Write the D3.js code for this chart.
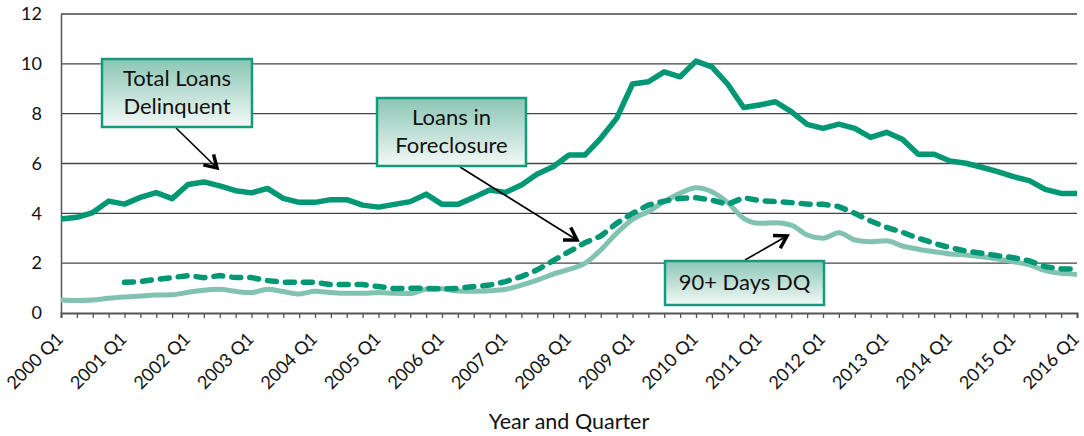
<!DOCTYPE html>
<html>
<head>
<meta charset="utf-8" />
<title>Delinquency and Foreclosure</title>
<script src="https://d3js.org/d3.v7.min.js"></script>
<style>
  body { margin: 0; background: #fff; }
  text { font-family: Lato, "Liberation Sans", sans-serif; fill: #111; }
</style>
</head>
<body>
<svg width="1084" height="436"></svg>
<script>
// chart data
var years = [2000, 2001, 2002, 2003, 2004, 2005, 2006, 2007, 2008, 2009, 2010, 2011, 2012, 2013, 2014, 2015, 2016];
var quarters = [];
years.forEach(function (yr) {
    ["Q1", "Q2", "Q3", "Q4"].forEach(function (q) {
        if (yr < 2016 || q === "Q1") quarters.push(yr + " " + q);
    });
});

var totalDelinquent = [3.77, 3.84, 4.03, 4.49, 4.37, 4.64, 4.83, 4.59, 5.16, 5.26, 5.10, 4.91, 4.82, 5.00, 4.60, 4.44,
    4.44, 4.55, 4.55, 4.33, 4.25, 4.36, 4.47, 4.77, 4.36, 4.36, 4.64, 4.94, 4.84, 5.14, 5.58, 5.87,
    6.34, 6.34, 7.01, 7.81, 9.19, 9.28, 9.68, 9.48, 10.11, 9.88, 9.18, 8.25, 8.35, 8.48, 8.08, 7.57,
    7.41, 7.58, 7.41, 7.05, 7.25, 6.97, 6.37, 6.37, 6.10, 6.01, 5.85, 5.67, 5.47, 5.31, 4.96, 4.80, 4.80];

var foreclosure = [null, null, null, null, 1.23, 1.26, 1.35, 1.42, 1.50, 1.42, 1.50, 1.42, 1.42, 1.30, 1.23, 1.23,
    1.23, 1.14, 1.14, 1.14, 1.06, 0.98, 0.99, 0.99, 0.97, 0.99, 1.06, 1.12, 1.26, 1.46, 1.73, 2.10,
    2.46, 2.82, 3.09, 3.60, 4.00, 4.33, 4.49, 4.60, 4.63, 4.53, 4.36, 4.63, 4.51, 4.47, 4.43, 4.37,
    4.36, 4.27, 4.00, 3.69, 3.44, 3.24, 3.00, 2.80, 2.62, 2.49, 2.40, 2.30, 2.22, 2.09, 1.86, 1.77, 1.77];

var days90 = [0.52, 0.50, 0.52, 0.59, 0.64, 0.68, 0.72, 0.73, 0.83, 0.91, 0.95, 0.87, 0.82, 0.95, 0.86, 0.76,
    0.87, 0.82, 0.79, 0.79, 0.82, 0.79, 0.78, 0.95, 0.97, 0.88, 0.87, 0.89, 0.95, 1.12, 1.32, 1.56,
    1.75, 1.99, 2.53, 3.20, 3.76, 4.07, 4.47, 4.80, 5.03, 4.87, 4.43, 3.80, 3.60, 3.62, 3.53, 3.13,
    3.00, 3.22, 2.93, 2.86, 2.90, 2.69, 2.56, 2.46, 2.37, 2.33, 2.26, 2.17, 2.06, 1.93, 1.70, 1.59, 1.55];

var yTicks = [0, 2, 4, 6, 8, 10, 12];

var svg = d3.select("svg");
var plotLeft = 61, plotRight = 1077, plotTop = 14, plotBottom = 313;
var darkGreen = "#009775", lightGreen = "#82c2b0";

var x = d3.scalePoint().domain(quarters).range([plotLeft, plotRight]);
var y = d3.scaleLinear().domain([0, 12]).range([plotBottom, plotTop]);

// gridlines
svg.append("g")
    .selectAll("line")
    .data(yTicks.filter(function (d) { return d > 0; }))
    .enter()
    .append("line")
    .attr("x1", plotLeft)
    .attr("x2", plotRight)
    .attr("y1", function (d) { return y(d); })
    .attr("y2", function (d) { return y(d); })
    .attr("stroke", "#444")
    .attr("stroke-width", 1.3);

// y axis
var yAxis = svg.append("g")
    .attr("transform", "translate(" + plotLeft + ",0)")
    .call(d3.axisLeft(y).tickValues(yTicks).tickSize(0).tickPadding(19));
yAxis.select(".domain").attr("stroke", "#555").attr("stroke-width", 1.5);
yAxis.selectAll("text").style("font-size", "18px");

// x axis
var xAxis = svg.append("g")
    .attr("transform", "translate(0," + plotBottom + ")")
    .call(d3.axisBottom(x).tickSize(5).tickPadding(0)
        .tickFormat(function (d) { return d.slice(-2) === "Q1" ? d : ""; }));
xAxis.select(".domain").attr("stroke", "#555").attr("stroke-width", 2);
xAxis.selectAll(".tick line").attr("stroke", "#555").attr("stroke-width", 1.3);
xAxis.selectAll("text")
    .style("font-size", "18px")
    .attr("text-anchor", "end")
    .attr("y", 0)
    .attr("dy", "0")
    .attr("transform", "translate(3,27) rotate(-45)");

svg.append("text")
    .attr("x", 569)
    .attr("y", 429)
    .attr("text-anchor", "middle")
    .style("font-size", "21.5px")
    .text("Year and Quarter");

// lines
function seriesLine(values, curve) {
    return d3.line()
        .defined(function (d) { return d != null; })
        .x(function (d, i) { return x(quarters[i]); })
        .y(function (d) { return y(d); })
        .curve(curve)(values);
}

svg.append("path")
    .attr("d", seriesLine(days90, d3.curveMonotoneX))
    .attr("fill", "none")
    .attr("stroke", lightGreen)
    .attr("stroke-width", 5)
    .attr("stroke-linejoin", "round");

svg.append("path")
    .attr("d", seriesLine(foreclosure, d3.curveLinear))
    .attr("fill", "none")
    .attr("stroke", darkGreen)
    .attr("stroke-width", 5.5)
    .attr("stroke-linecap", "round")
    .attr("stroke-dasharray", "9,9");

svg.append("path")
    .attr("d", seriesLine(totalDelinquent, d3.curveLinear))
    .attr("fill", "none")
    .attr("stroke", darkGreen)
    .attr("stroke-width", 5.5)
    .attr("stroke-linejoin", "round");

// annotation boxes
var grad = svg.append("defs").append("linearGradient")
    .attr("id", "boxFill").attr("x1", 0).attr("y1", 0).attr("x2", 0).attr("y2", 1);
grad.append("stop").attr("offset", "0%").attr("stop-color", "#8ac6b4");
grad.append("stop").attr("offset", "100%").attr("stop-color", "#f3f9f7");

var notes = [
    { x: 102, y: 59, w: 150, h: 68, lines: ["Total Loans", "Delinquent"], from: [176, 128], to: [217, 168] },
    { x: 377, y: 98, w: 149, h: 68, lines: ["Loans in", "Foreclosure"], from: [460, 167], to: [577, 240] },
    { x: 665, y: 261, w: 159, h: 44, lines: ["90+ Days DQ"], from: [745, 260], to: [787, 236] }
];

notes.forEach(function (n) {
    // arrow shaft and open head
    svg.append("line")
        .attr("x1", n.from[0]).attr("y1", n.from[1])
        .attr("x2", n.to[0]).attr("y2", n.to[1])
        .attr("stroke", "#000").attr("stroke-width", 1.6);
    var ang = Math.atan2(n.to[1] - n.from[1], n.to[0] - n.from[0]);
    var len = 14, spread = 0.55;
    var p1 = [n.to[0] - len * Math.cos(ang - spread), n.to[1] - len * Math.sin(ang - spread)];
    var p2 = [n.to[0] - len * Math.cos(ang + spread), n.to[1] - len * Math.sin(ang + spread)];
    svg.append("polyline")
        .attr("points", [p1, n.to, p2].map(function (p) { return p.join(","); }).join(" "))
        .attr("fill", "none").attr("stroke", "#000").attr("stroke-width", 3.5)
        .attr("stroke-linejoin", "miter");

    svg.append("rect")
        .attr("x", n.x).attr("y", n.y).attr("width", n.w).attr("height", n.h)
        .attr("fill", "url(#boxFill)")
        .attr("stroke", "#159a7e").attr("stroke-width", 2.5);
    var lh = 28;
    var firstBase = n.y + n.h / 2 - (n.lines.length - 1) * lh / 2 + 7;
    n.lines.forEach(function (t, i) {
        svg.append("text")
            .attr("x", n.x + n.w / 2)
            .attr("y", firstBase + i * lh)
            .attr("text-anchor", "middle")
            .style("font-size", "22px")
            .text(t);
    });
});
</script>
</body>
</html>
